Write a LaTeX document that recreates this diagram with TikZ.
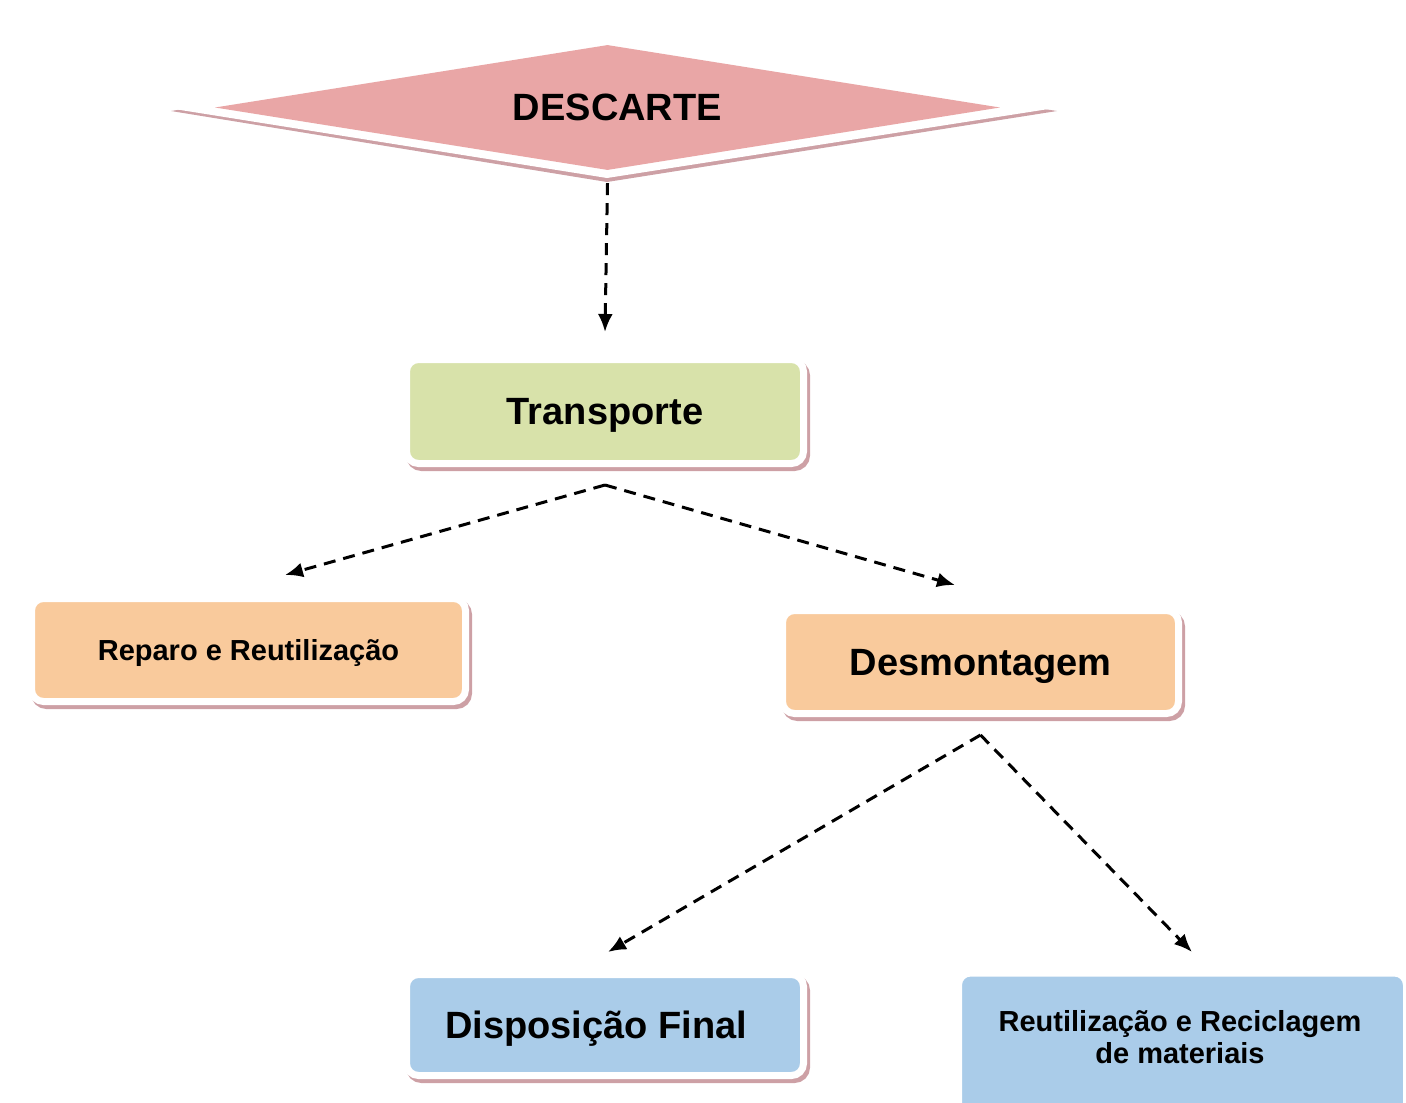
\documentclass[tikz,border=0pt]{standalone}
\usepackage{fontspec}
\setmainfont{Liberation Sans}
\usetikzlibrary{shapes.geometric,arrows.meta}
\definecolor{pinkd}{RGB}{233,166,166}
\definecolor{greenb}{RGB}{216,226,170}
\definecolor{orangeb}{RGB}{249,202,156}
\definecolor{blueb}{RGB}{170,204,233}
\definecolor{shadowc}{RGB}{205,160,165}
\begin{document}
\begin{tikzpicture}[x=1pt,y=-1pt,
  boxbase/.style={rectangle, rounded corners=12pt, draw=white, line width=7pt,
    inner sep=0pt, align=center, text=black, text depth=0pt,
    preaction={draw=shadowc, fill=shadowc, line width=7pt,
      transform canvas={shift={(3pt,-4pt)}}}},
  bigtxt/.style={font=\fontsize{38}{40}\selectfont\bfseries},
  smalltxt/.style={font=\fontsize{29}{32}\selectfont\bfseries},
  conn/.style={draw=black, line width=3pt, dash pattern=on 12pt off 8pt,
    -{Latex[length=18pt,width=15pt]}}
]
\useasboundingbox (0,0) rectangle (1406,1103);
\clip (0,0) rectangle (1406,1103);

% diamond border and shadow
\fill[shadowc] (171,111) -- (607,41) -- (1057,111) -- (607,182) -- cycle;
\fill[white] (168,108) -- (607,38) -- (1055,108) -- (607,178) -- cycle;
\node[diamond, aspect=6.28, fill=pinkd, inner sep=0pt,
  minimum width=785pt, minimum height=125pt, bigtxt] (d) at (607.5,107.5)
  {\hspace*{20pt}DESCARTE};

\node[boxbase, fill=greenb, minimum width=397pt, minimum height=104pt, bigtxt]
  (t) at (605,411.5) {Transporte};
\node[boxbase, fill=orangeb, minimum width=434pt, minimum height=103pt, smalltxt]
  (rep) at (248.5,650) {Reparo e Reutilização};
\node[boxbase, fill=orangeb, minimum width=396pt, minimum height=103pt, bigtxt]
  (des) at (980.5,662) {Desmontagem};
\node[boxbase, fill=blueb, minimum width=397pt, minimum height=101pt, bigtxt]
  (dis) at (605,1025) {Disposição Final\hspace*{18pt}};
\node[boxbase, fill=blueb, minimum width=448pt, minimum height=150pt, smalltxt]
  (reu) at (1182.5,1048) {};
\node[smalltxt, align=center, inner sep=0pt] (reut) at (1180,1037)
  {Reutilização e Reciclagem\\de materiais};

\coordinate (a1) at (285,575);
\coordinate (a2) at (955,585);
\coordinate (a3) at (608,952);
\coordinate (a4) at (1192,952);

\draw[conn] ([yshift=-13pt]d.south) -- ([yshift=24pt]t.north);
\draw[conn] ([yshift=-18pt]t.south) -- (a1);
\draw[conn] ([yshift=-18pt]t.south) -- (a2);
\draw[conn] ([yshift=-18pt]des.south) -- (a3);
\draw[conn] ([yshift=-18pt]des.south) -- (a4);
\end{tikzpicture}
\end{document}
